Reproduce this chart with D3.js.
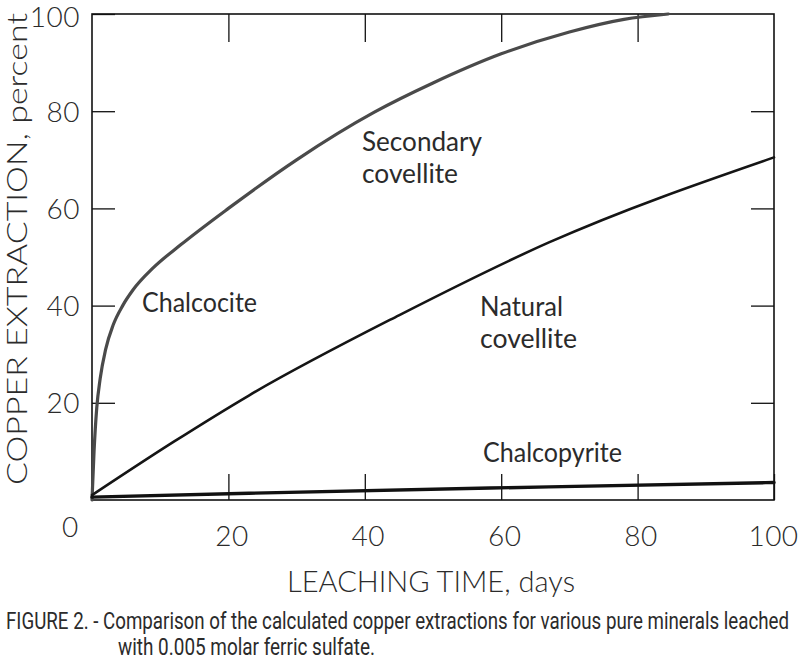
<!DOCTYPE html>
<html>
<head>
<meta charset="utf-8">
<script src="https://cdn.jsdelivr.net/npm/d3@7"></script>
<style>
  body { margin: 0; background: #fff; }
  svg text { fill: #2b2b2b; font-family: "Lato", "Open Sans", sans-serif; }
</style>
</head>
<body>
<div id="chart"></div>
<script>
// days, percent extraction
const secondaryDays = [0, 0.3, 0.7, 1.2, 2, 3.1, 4.5, 6, 9, 13, 20, 30, 41.4, 50, 60, 70, 78, 84.5];
const secondaryPct  = [0, 10, 19, 25, 31, 36, 40, 43.2, 47.8, 52.5, 60, 70, 79.8, 85.8, 91.8, 96.3, 98.9, 100];

const naturalDays = [0, 12, 23, 45, 67, 100];
const naturalPct  = [1, 12, 21.5, 38, 53, 70.5];

const chalcopyriteDays = [0, 23, 67, 100];
const chalcopyritePct  = [0.6, 1.4, 2.7, 3.6];

const xTicks = [20, 40, 60, 80, 100];
const yTicks = [20, 40, 60, 80, 100];

const curveLabels = [
  { lines: ['Secondary', 'covellite'], x: 362, y: 151, widths: [120, 96] },
  { lines: ['Chalcocite'], x: 142, y: 312, widths: [115] },
  { lines: ['Natural', 'covellite'], x: 480, y: 316, widths: [83, 97] },
  { lines: ['Chalcopyrite'], x: 483, y: 462, widths: [139] }
];

const width = 800, height = 666;
const plot = { left: 92, right: 774, top: 14, bottom: 500 };

const svg = d3.select('#chart').append('svg')
  .attr('width', width)
  .attr('height', height);

const x = d3.scaleLinear().domain([0, 100]).range([plot.left, plot.right]);
const y = d3.scaleLinear().domain([0, 100]).range([plot.bottom, plot.top]);

// frame
svg.append('rect')
  .attr('x', plot.left).attr('y', plot.top)
  .attr('width', plot.right - plot.left).attr('height', plot.bottom - plot.top)
  .attr('fill', 'none').attr('stroke', '#111').attr('stroke-width', 1.6);

// inward ticks on all four sides
const leftAxis = svg.append('g').attr('transform', `translate(${plot.left},0)`)
  .call(d3.axisLeft(y).tickValues(yTicks).tickSizeInner(-23).tickSizeOuter(0).tickPadding(12));
const rightAxis = svg.append('g').attr('transform', `translate(${plot.right},0)`)
  .call(d3.axisRight(y).tickValues(yTicks.slice(0, 4)).tickSizeInner(-23).tickSizeOuter(0).tickFormat(''));
const bottomAxis = svg.append('g').attr('transform', `translate(0,${plot.bottom})`)
  .call(d3.axisBottom(x).tickValues(xTicks).tickSizeInner(-26).tickSizeOuter(0).tickPadding(26));
const topAxis = svg.append('g').attr('transform', `translate(0,${plot.top})`)
  .call(d3.axisTop(x).tickValues(xTicks.slice(0, 4)).tickSizeInner(-28).tickSizeOuter(0).tickFormat(''));

[leftAxis, rightAxis, bottomAxis, topAxis].forEach(g => {
  g.select('.domain').remove();
  g.selectAll('line').attr('stroke', '#111').attr('stroke-width', 1.3);
  g.selectAll('text')
    .attr('font-size', 28)
    .attr('font-weight', 300)
    .attr('letter-spacing', 0.5)
    .style('font-family', '"Lato", "Open Sans", sans-serif')
    .attr('fill', '#2b2b2b');
});
bottomAxis.selectAll('text').attr('dx', d => d === 100 ? -1 : 3);
leftAxis.selectAll('text').attr('dy', d => d === 100 ? '0.44em' : '0.36em');

// shared origin label
svg.append('text')
  .attr('x', 70).attr('y', 537)
  .attr('text-anchor', 'middle')
  .attr('font-size', 28).attr('font-weight', 300)
  .text('0');

// curves
const line = d3.line()
  .x(d => x(d[0]))
  .y(d => y(d[1]))
  .curve(d3.curveMonotoneX);

const series = [
  { days: secondaryDays, pct: secondaryPct, color: '#4a4a4a', w: 3.2 },
  { days: naturalDays, pct: naturalPct, color: '#151515', w: 2.6 },
  { days: chalcopyriteDays, pct: chalcopyritePct, color: '#111', w: 3.4 }
];

svg.selectAll('path.curve')
  .data(series)
  .enter()
  .append('path')
  .attr('class', 'curve')
  .attr('d', s => line(d3.zip(s.days, s.pct)))
  .attr('fill', 'none')
  .attr('stroke', s => s.color)
  .attr('stroke-width', s => s.w)
  .attr('stroke-linecap', 'round');

// curve labels
curveLabels.forEach(l => {
  l.lines.forEach((t, i) => {
    svg.append('text')
      .attr('x', l.x)
      .attr('y', l.y + i * 32)
      .attr('font-size', 27)
      .attr('textLength', l.widths[i])
      .attr('lengthAdjust', 'spacingAndGlyphs')
      .text(t);
  });
});

// axis titles
svg.append('text')
  .attr('x', 287).attr('y', 592)
  .attr('font-size', 30)
  .attr('font-weight', 300)
  .attr('textLength', 288)
  .attr('lengthAdjust', 'spacingAndGlyphs')
  .text('LEACHING TIME, days');

svg.append('text')
  .attr('transform', 'translate(27,485) rotate(-90)')
  .attr('font-size', 28)
  .attr('font-weight', 300)
  .attr('textLength', 472)
  .attr('lengthAdjust', 'spacingAndGlyphs')
  .text('COPPER EXTRACTION, percent');

// caption (narrow face, stretched a little vertically like the original type)
svg.append('text')
  .attr('transform', 'translate(6,629) scale(1,1.15)')
  .attr('font-size', 20)
  .attr('textLength', 783)
  .attr('lengthAdjust', 'spacingAndGlyphs')
  .style('font-family', '"Liberation Sans Narrow", "Roboto", sans-serif')
  .text('FIGURE 2. - Comparison of the calculated copper extractions for various pure minerals leached');

svg.append('text')
  .attr('transform', 'translate(118,655) scale(1,1.15)')
  .attr('font-size', 20)
  .attr('textLength', 257)
  .attr('lengthAdjust', 'spacingAndGlyphs')
  .style('font-family', '"Liberation Sans Narrow", "Roboto", sans-serif')
  .text('with 0.005 molar ferric sulfate.');
</script>
</body>
</html>
